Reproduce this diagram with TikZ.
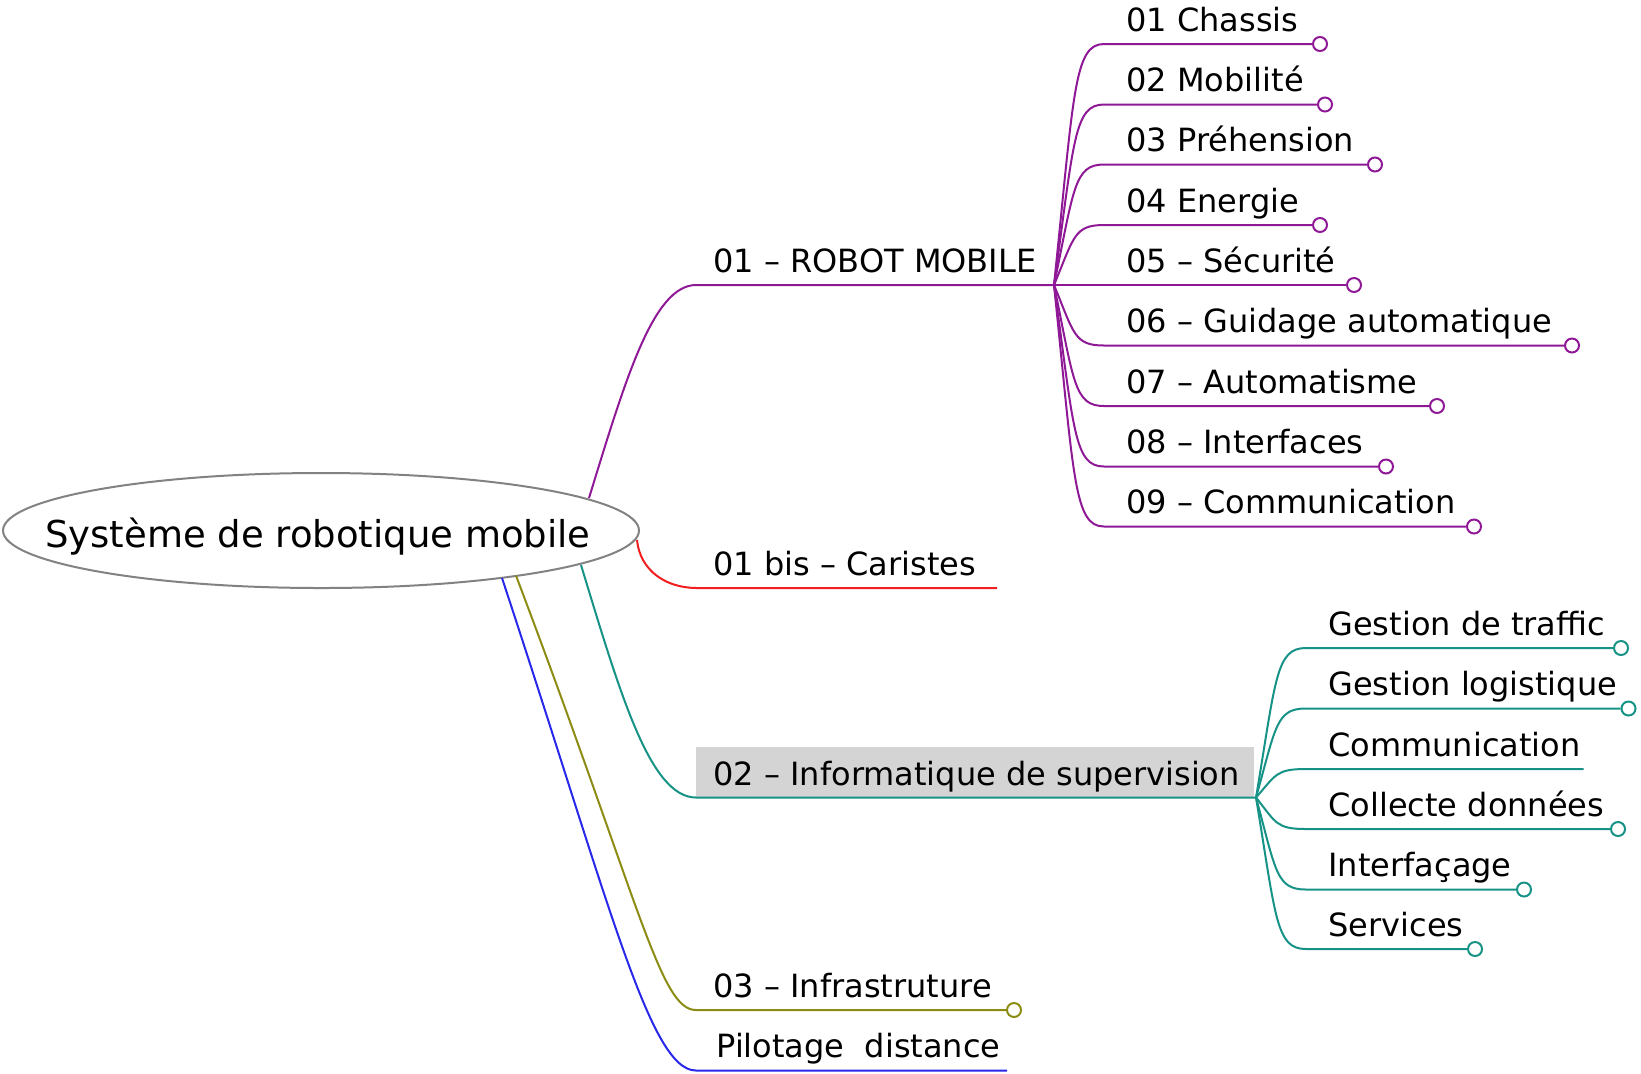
\documentclass[tikz,border=0pt]{standalone}
\usepackage{fontspec}
\setmainfont{DejaVu Sans}
\usetikzlibrary{shapes.geometric}
\definecolor{cpurple}{RGB}{142,24,150}
\definecolor{cteal}{RGB}{22,146,134}
\definecolor{colive}{RGB}{140,140,20}
\definecolor{cblue}{RGB}{40,40,235}
\definecolor{cred}{RGB}{240,30,30}
\definecolor{cbox}{RGB}{212,212,212}
\definecolor{cgrey}{RGB}{130,130,130}
\tikzset{
  lbl/.style={anchor=base west, inner sep=0pt, font=\fontsize{16pt}{19pt}\selectfont},
  titlelbl/.style={anchor=base, inner sep=0pt, font=\fontsize{18.5pt}{22pt}\selectfont},
  branch/.style={line width=1pt},
  endc/.style={circle, draw=#1, fill=white, line width=1pt, minimum size=7pt, inner sep=0pt},
  rootshape/.style={ellipse, draw=cgrey, line width=1pt, minimum width=318pt, minimum height=57.5pt, inner sep=0pt},
  greybox/.style={fill=cbox, inner sep=0pt, anchor=south west, minimum width=279pt, minimum height=25.25pt},
}
\begin{document}
\begin{tikzpicture}[x=0.5pt,y=-0.5pt]
\useasboundingbox (0,0) rectangle (1641,1073);

% root
\node[rootshape] (root) at (321,530.5) {};
\node[titlelbl] (rootlbl) at (318,547) {Système de robotique mobile};

% start points on the ellipse, corners, hubs
\coordinate (s1) at (589,498);
\coordinate (s2) at (637,540);
\coordinate (s3) at (581,565);
\coordinate (s4) at (516,575.6);
\coordinate (s5) at (502,578);
\coordinate (k1) at (696,285);
\coordinate (k2) at (697,588);
\coordinate (k3) at (696,797.5);
\coordinate (k4) at (696,1010);
\coordinate (k5) at (696,1070.5);
\coordinate (h1) at (1054,285);
\coordinate (h2) at (1256,797.5);
\coordinate (e2) at (997,588);
\coordinate (e5) at (1007,1070.5);

% grey box behind 02
\node[greybox] (infobox) at (696,797.5) {};

% main branches
\draw[branch,cpurple] (s1) .. controls +(36,-117) and +(-43,0) .. (k1) -- (h1);
\draw[branch,cred] (s2) .. controls +(3,30) and +(-32,0) .. (k2) -- (e2);
\draw[branch,cteal] (s3) .. controls +(39,128) and +(-46,0) .. (k3) -- (h2);
\node[endc=colive] (c4) at (1014,1010) {};
\draw[branch,colive] (s4) .. controls +(125,330) and +(-36,0) .. (k4) -- (c4.west);
\draw[branch,cblue] (s5) .. controls +(109,330) and +(-46,0) .. (k5) -- (e5);

% main labels
\node[lbl] (l1) at (713,272) {01 – ROBOT MOBILE};
\node[lbl] (l2) at (713,575) {01 bis – Caristes};
\node[lbl] (l3) at (713,785) {02 – Informatique de supervision};
\node[lbl] (l4) at (713,997) {03 – Infrastruture};
\node[lbl] (l5) at (716,1057.5) {Pilotage\ \ distance};

% robot children
\foreach \n/\y/\cx/\t in {a/44/1320/01 Chassis, b/104.5/1325/02 Mobilité, c/164.5/1375/03 Préhension, d/225/1320/04 Energie, e/285/1354/05 – Sécurité, f/345.5/1572/06 – Guidage automatique, g/406/1437/07 – Automatisme, h/466.5/1386/08 – Interfaces, i/526.5/1474/09 – Communication}{
  \pgfmathsetmacro\dy{0.8*(\y-285)}
  \node[endc=cpurple] (r\n) at (\cx,\y) {};
  \coordinate (rs\n) at (1104,\y);
  \draw[branch,cpurple] (h1) .. controls +(20,\dy) and +(-30,0) .. (rs\n) -- (r\n.west);
  \node[lbl] (rl\n) at (1126,\y-13) {\t};
}

% informatique children
\foreach \n/\y/\cx/\t in {a/648/1621/Gestion de traffic, b/708.5/1628.5/Gestion logistique, d/829/1618/Collecte données, e/889.5/1524/Interfaçage, f/949/1475/Services}{
  \pgfmathsetmacro\dy{0.8*(\y-797.5)}
  \node[endc=cteal] (i\n) at (\cx,\y) {};
  \coordinate (is\n) at (1306,\y);
  \draw[branch,cteal] (h2) .. controls +(20,\dy) and +(-30,0) .. (is\n) -- (i\n.west);
  \node[lbl] (il\n) at (1328,\y-13) {\t};
}
\coordinate (isc) at (1306,769);
\coordinate (iec) at (1583.5,769);
\draw[branch,cteal] (h2) .. controls +(20,-22.8) and +(-30,0) .. (isc) -- (iec);
\node[lbl] (ilc) at (1328,756) {Communication};

\end{tikzpicture}
\end{document}
